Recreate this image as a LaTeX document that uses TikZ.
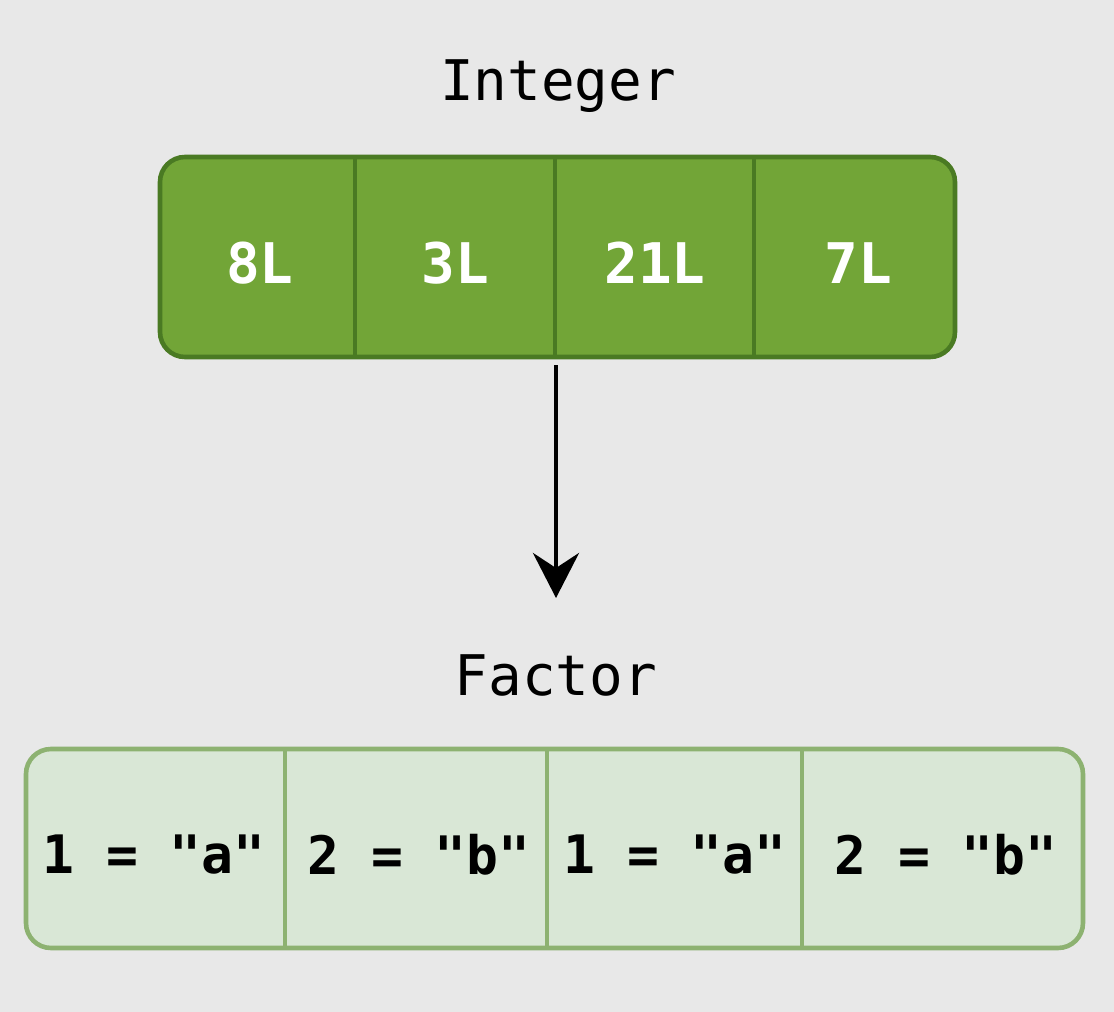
\documentclass[tikz,border=0pt]{standalone}
\usepackage{fontspec}
\setmonofont{DejaVu Sans Mono}
\usetikzlibrary{arrows.meta}
\definecolor{bgc}{HTML}{E8E8E8}
\definecolor{topfill}{HTML}{72A537}
\definecolor{topline}{HTML}{4A7A23}
\definecolor{botfill}{HTML}{D9E7D6}
\definecolor{botline}{HTML}{8DB271}
\begin{document}
\begin{tikzpicture}[x=1pt,y=-1pt,
  title/.style={font=\ttfamily\fontsize{56}{60}\selectfont, text=black, inner sep=0pt},
  topval/.style={font=\ttfamily\bfseries\fontsize{56}{60}\selectfont, text=white, inner sep=0pt},
  botval/.style={font=\ttfamily\bfseries\fontsize{53}{58}\selectfont, text=black, inner sep=0pt},
  topbox/.style={draw=topline, fill=topfill, line width=4.6pt, rounded corners=25pt},
  botbox/.style={draw=botline, fill=botfill, line width=4.6pt, rounded corners=25pt},
  topdiv/.style={draw=topline, line width=4.6pt},
  botdiv/.style={draw=botline, line width=4.6pt},
  conn/.style={draw=black, line width=4.6pt, -{Stealth[length=45pt,width=46pt,inset=15pt]}}
]
\fill[bgc] (0,0) rectangle (1114,1012);
\useasboundingbox (0,0) rectangle (1114,1012);

% Integer row
\node[title, anchor=base] (tInt) at (558,100) {Integer};
\path[topbox] (160,157) rectangle (955,357);
\draw[topdiv] (355,157) -- (355,357);
\draw[topdiv] (555,157) -- (555,357);
\draw[topdiv] (754,157) -- (754,357);
\node[topval] (v1) at (260,263) {8L};
\node[topval] (v2) at (455,263) {3L};
\node[topval] (v3) at (655,263) {21L};
\node[topval] (v4) at (858,263) {7L};

% arrow
\coordinate (aStart) at (556,365);
\coordinate (aEnd) at (556,598);
\draw[conn] (aStart) -- (aEnd);

% Factor row
\node[title, anchor=base] (tFac) at (556,695) {Factor};
\path[botbox] (26,749) rectangle (1083,948);
\draw[botdiv] (285,749) -- (285,948);
\draw[botdiv] (547,749) -- (547,948);
\draw[botdiv] (802,749) -- (802,948);
\node[botval] (f1) at (154,855) {1 = "a"};
\node[botval] (f2) at (419,855) {2 = "b"};
\node[botval] (f3) at (675,855) {1 = "a"};
\node[botval] (f4) at (946,855) {2 = "b"};
\end{tikzpicture}
\end{document}
